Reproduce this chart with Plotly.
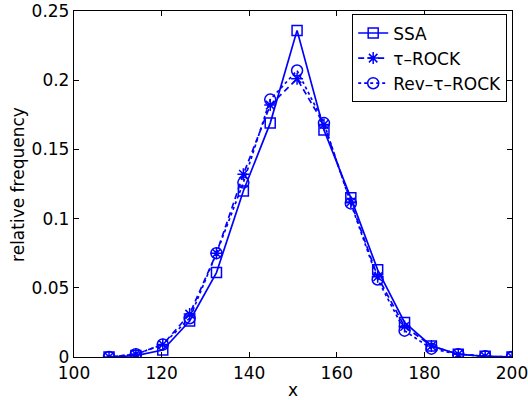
import plotly.graph_objects as go

x_vals = [108.0, 114.13, 120.27, 126.4, 132.53, 138.67, 144.8, 150.93,
          157.07, 163.2, 169.33, 175.47, 181.6, 187.73, 193.87, 200.0]
ssa = [0.0, 0.001, 0.005, 0.026, 0.061, 0.120, 0.169, 0.236,
       0.164, 0.115, 0.063, 0.025, 0.008, 0.002, 0.0005, 0.0]
tau_rock = [0.0, 0.002, 0.009, 0.031, 0.075, 0.132, 0.182, 0.201,
            0.168, 0.112, 0.058, 0.022, 0.008, 0.002, 0.0005, 0.0]
rev_tau_rock = [0.0, 0.002, 0.009, 0.028, 0.075, 0.126, 0.186, 0.207,
                0.169, 0.111, 0.056, 0.019, 0.006, 0.002, 0.0005, 0.0]

x_ticks = [100, 120, 140, 160, 180, 200]
y_ticks = [0, 0.05, 0.1, 0.15, 0.2, 0.25]
y_tick_text = ["0", "0.05", "0.1", "0.15", "0.2", "0.25"]

BLUE = "rgb(0,0,255)"
FONT = "DejaVu Sans, Liberation Sans, Arial, sans-serif"

fig = go.Figure()
fig.add_trace(go.Scatter(
    x=x_vals, y=ssa, name="SSA", mode="lines+markers",
    line=dict(color=BLUE, width=1.7, dash="solid"),
    marker=dict(symbol="square-open", size=10, color=BLUE, line=dict(width=1.5, color=BLUE)),
))
fig.add_trace(go.Scatter(
    x=x_vals, y=tau_rock, name="τ–ROCK", mode="lines+markers",
    line=dict(color=BLUE, width=1.7, dash="6px,4px"),
    marker=dict(symbol="asterisk-open", size=10, color=BLUE, line=dict(width=1.5, color=BLUE)),
))
fig.add_trace(go.Scatter(
    x=x_vals, y=rev_tau_rock, name="Rev–τ–ROCK", mode="lines+markers",
    line=dict(color=BLUE, width=1.7, dash="dot"),
    marker=dict(symbol="circle-open", size=11, color=BLUE, line=dict(width=1.5, color=BLUE)),
))

axis_common = dict(
    showline=True, linecolor="#000000", linewidth=1.3, mirror="ticks",
    ticks="inside", ticklen=5, tickcolor="#000000", tickwidth=1.2,
    showgrid=False, zeroline=False, automargin=False,
    ticklabeloverflow="allow",
    tickfont=dict(family=FONT, size=17, color="black"),
)

fig.update_layout(
    width=528, height=400,
    margin=dict(l=74, r=16, t=11, b=43, autoexpand=False),
    paper_bgcolor="white", plot_bgcolor="white",
    font=dict(family=FONT, color="black"),
    xaxis=dict(range=[100, 200], tickvals=x_ticks, **axis_common),
    yaxis=dict(range=[0, 0.25], tickvals=y_ticks, ticktext=y_tick_text, **axis_common),
    legend=dict(
        x=0.989, y=0.99, xanchor="right", yanchor="top",
        bgcolor="white", bordercolor="black", borderwidth=1,
        font=dict(family=FONT, size=17, color="black"),
        itemwidth=30, tracegroupgap=0,
    ),
    showlegend=True,
    annotations=[
        dict(text="x", xref="paper", yref="paper", x=0.5, y=-0.095,
             xanchor="center", yanchor="middle", showarrow=False,
             font=dict(family=FONT, size=17, color="black")),
        dict(text="relative frequency", xref="paper", yref="paper", x=-0.128, y=0.5,
             xanchor="center", yanchor="middle", textangle=-90, showarrow=False,
             font=dict(family=FONT, size=17, color="black")),
    ],
)

fig.write_html("out.html", config={"displayModeBar": False},
               post_script="document.body.style.margin='0px';document.body.style.overflow='hidden';")
